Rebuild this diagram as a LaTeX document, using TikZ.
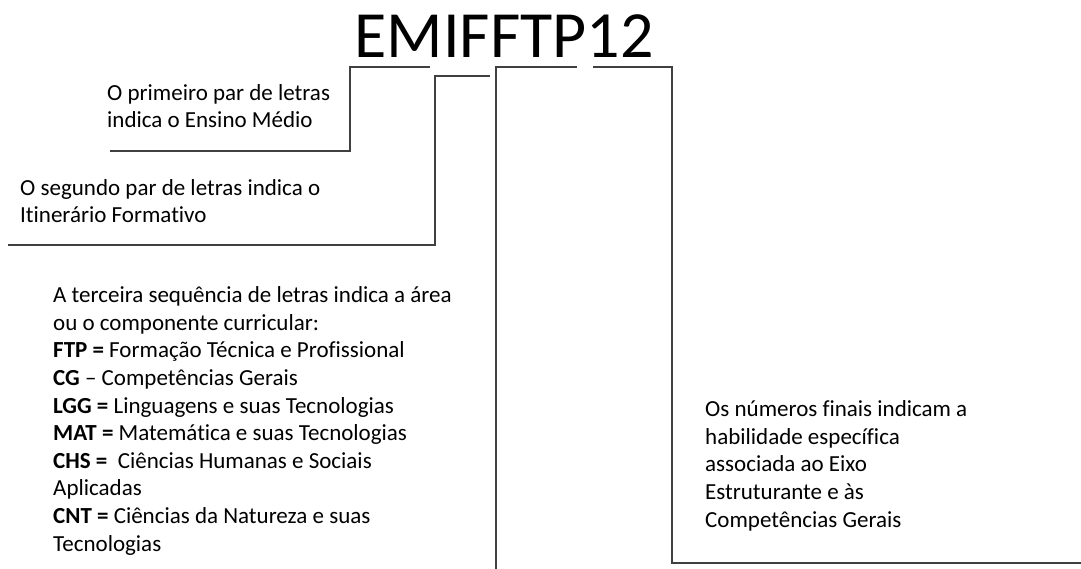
\documentclass[tikz,border=0pt]{standalone}
\usepackage{fontspec}
\setmainfont{Carlito}[Ligatures=NoCommon]
\usepackage{tikz}
\usetikzlibrary{positioning}

\begin{document}
\begin{tikzpicture}[x=1pt, y=-1pt,
    txt/.style={anchor=base west, align=left, inner sep=0pt, font=\fontsize{23}{27.6}\selectfont},
    lin/.style={line width=1.2pt, draw=black!75}]
    \useasboundingbox (0,0) rectangle (1081,569);

    \node[anchor=base, inner sep=0pt, font=\fontsize{66}{70}\selectfont] (code) at (504,58) {EMIFFTP12};

    \node[txt] (t1) at (107,128) {O primeiro par de letras\\indica o Ensino Médio};
    \node[txt] (t2) at (20,223) {O segundo par de letras indica o\\Itinerário Formativo};
    \node[txt] (t3) at (53,551) {A terceira sequência de letras indica a área\\ou o componente curricular:\\\textbf{FTP =} Formação Técnica e Profissional\\\textbf{CG} -- Competências Gerais\\\textbf{LGG =} Linguagens e suas Tecnologias\\\textbf{MAT =} Matemática e suas Tecnologias\\\textbf{CHS =} \ Ciências Humanas e Sociais\\Aplicadas\\\textbf{CNT =} Ciências da Natureza e suas\\Tecnologias};
    \node[txt] (t4) at (705,527) {Os números finais indicam a\\habilidade específica\\associada ao Eixo\\Estruturante e às\\Competências Gerais};

    \coordinate (a1) at (430,67);
    \coordinate (a2) at (350,67);
    \coordinate (a3) at (110,151);
    \coordinate (b1) at (490,76);
    \coordinate (b2) at (435,76);
    \coordinate (b3) at (8,245);
    \coordinate (c1) at (577,67);
    \coordinate (c2) at (496,67);
    \coordinate (c3) at (496,569);
    \coordinate (d1) at (593,67);
    \coordinate (d2) at (672,67);
    \coordinate (d3) at (1081,563);

    \draw[lin] (a1) -- (a2) |- (a3);
    \draw[lin] (b1) -- (b2) |- (b3);
    \draw[lin] (c1) -- (c2) -- (c3);
    \draw[lin] (d1) -- (d2) |- (d3);
\end{tikzpicture}
\end{document}
